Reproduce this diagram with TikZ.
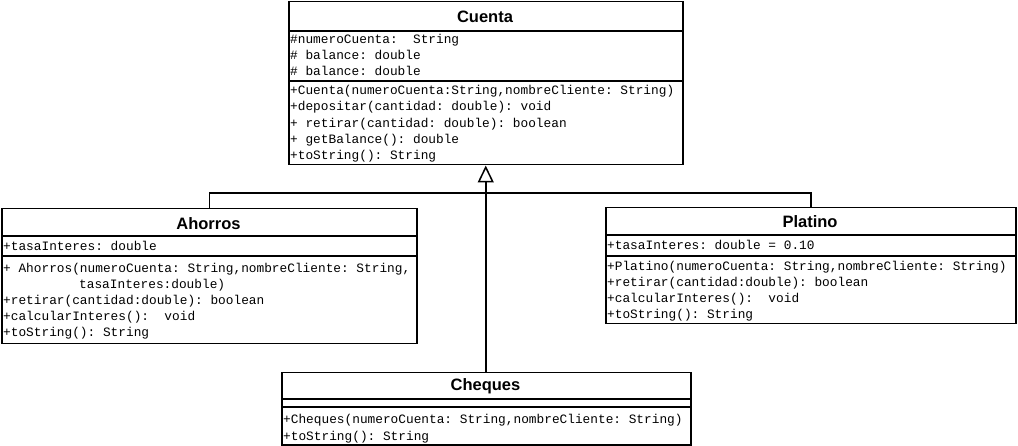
\documentclass[tikz,border=0pt]{standalone}
\usepackage{fontspec}
\setmainfont{Liberation Sans}
\setmonofont{Liberation Mono}
\usetikzlibrary{arrows.meta}
\tikzset{
  classbox/.style={draw, line width=1.5pt, anchor=north west, inner sep=0pt, fill=white},
  sepline/.style={line width=1.5pt},
  conn/.style={line width=1.5pt},
  title/.style={font=\fontsize{16.5}{19}\selectfont\bfseries, inner sep=0pt, anchor=center},
  member/.style={font=\fontsize{12.8}{14}\selectfont\ttfamily, inner sep=0pt, anchor=west, text height=10pt, text depth=0pt},
}
\begin{document}
\begin{tikzpicture}[x=1pt,y=-1pt]
\useasboundingbox (0,0) rectangle (1018,446);

% ---------- Cuenta ----------
\node[classbox, minimum width=394pt, minimum height=163pt] (cuenta) at (288,1) {};
\draw[sepline] (cuenta.west |- 0,31) -- (cuenta.east |- 0,31);
\draw[sepline] (cuenta.west |- 0,81) -- (cuenta.east |- 0,81);
\node[title] (cuentaT) at (485,16.5) {Cuenta};
\node[member] (c1) at (290,39) {\#numeroCuenta:\ \ String};
\node[member] (c2) at (290,55) {\# balance: double};
\node[member] (c3) at (290,71) {\# balance: double};
\node[member] (c4) at (290,90) {+Cuenta(numeroCuenta:String,nombreCliente: String)};
\node[member] (c5) at (290,106) {+depositar(cantidad: double): void};
\node[member] (c6) at (290,123) {+ retirar(cantidad: double): boolean};
\node[member] (c7) at (290,139) {+ getBalance(): double};
\node[member] (c8) at (290,155) {+toString(): String};

% ---------- Ahorros ----------
\node[classbox, minimum width=415pt, minimum height=135pt] (ahorros) at (1,208) {};
\draw[sepline] (ahorros.west |- 0,236) -- (ahorros.east |- 0,236);
\draw[sepline] (ahorros.west |- 0,256) -- (ahorros.east |- 0,256);
\node[title] (ahorrosT) at (208.5,223.5) {Ahorros};
\node[member] (a1) at (3,246) {+tasaInteres: double};
\node[member] (a2) at (3,268) {+ Ahorros(numeroCuenta: String,nombreCliente: String,};
\node[member] (a3) at (79,284) {tasaInteres:double)};
\node[member] (a4) at (3,300) {+retirar(cantidad:double): boolean};
\node[member] (a5) at (3,316) {+calcularInteres():\ \ void};
\node[member] (a6) at (3,332) {+toString(): String};

% ---------- Platino ----------
\node[classbox, minimum width=410pt, minimum height=116pt] (platino) at (605,207) {};
\draw[sepline] (platino.west |- 0,235) -- (platino.east |- 0,235);
\draw[sepline] (platino.west |- 0,256) -- (platino.east |- 0,256);
\node[title] (platinoT) at (810,222) {Platino};
\node[member] (p1) at (607,245) {+tasaInteres: double = 0.10};
\node[member] (p2) at (607,266) {+Platino(numeroCuenta: String,nombreCliente: String)};
\node[member] (p3) at (607,282) {+retirar(cantidad:double): boolean};
\node[member] (p4) at (607,298) {+calcularInteres():\ \ void};
\node[member] (p5) at (607,314) {+toString(): String};

% ---------- Cheques ----------
\node[classbox, minimum width=409pt, minimum height=72pt] (cheques) at (281,372) {};
\draw[sepline] (cheques.west |- 0,399) -- (cheques.east |- 0,399);
\draw[sepline] (cheques.west |- 0,407) -- (cheques.east |- 0,407);
\node[title] (chequesT) at (485.5,386.5) {Cheques};
\node[member] (h1) at (283,419) {+Cheques(numeroCuenta: String,nombreCliente: String)};
\node[member] (h2) at (283,435) {+toString(): String};

% ---------- Generalization ----------
\coordinate (bar) at (485,193);
\draw[conn] (ahorros.north) |- (bar) -| (platino.north);
\draw[conn, -{Triangle[open, length=17pt, width=16pt, line width=1.5pt]}] (cheques.north -| cuenta.south) -- (cuenta.south);
\end{tikzpicture}
\end{document}
